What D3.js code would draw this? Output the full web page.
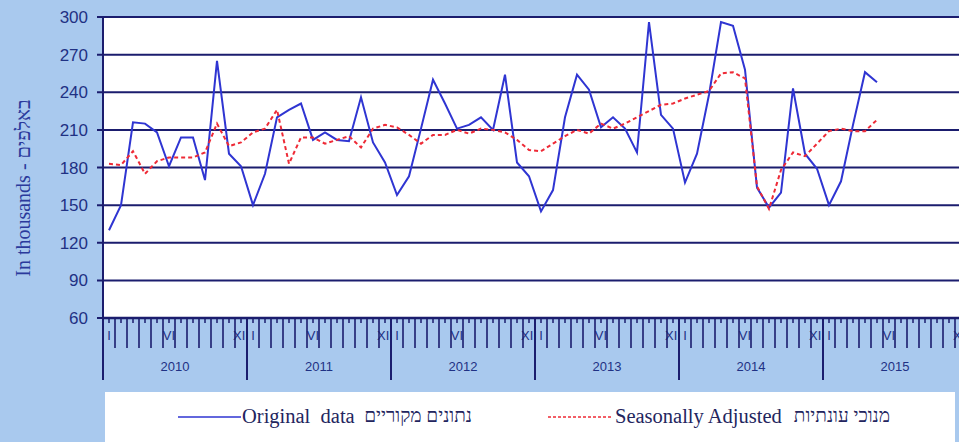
<!DOCTYPE html>
<html>
<head>
    <meta charset="utf-8">
    <title>In thousands</title>
    <script src="https://d3js.org/d3.v7.min.js"></script>
    <style>
        body { margin: 0; background: #a9c9ee; }
        svg { display: block; }
    </style>
</head>
<body>
    <svg id="chart" width="959" height="442"></svg>

    <script>
        // monthly data, Jan 2010 onwards (thousands)
        const years = [2010, 2011, 2012, 2013, 2014, 2015];
        const monthLabels = {0: 'I', 5: 'VI', 11: 'XII'};
        const yTicks = [60, 90, 120, 150, 180, 210, 240, 270, 300];

        const original = [
            130, 150, 216, 215, 208, 181, 204, 204, 170, 265, 191, 181,
            150, 175, 220, 226, 231, 202, 208, 202, 201, 236, 200, 184,
            158, 173, 211, 250, 231, 211, 214, 220, 210, 254, 184, 173,
            145, 162, 220, 254, 242, 212, 220, 211, 192, 296, 222, 211,
            168, 191, 238, 296, 293, 258, 164, 148, 160, 243, 191, 179,
            150, 169, 214, 256, 248
        ];
        const seasAdj = [
            183, 182, 193, 175, 185, 188, 188, 188, 192, 215, 197, 200,
            208, 211, 226, 183, 204, 204, 199, 202, 205, 196, 211, 214,
            212, 206, 199, 206, 206, 210, 207, 211, 210, 208, 202, 194,
            193, 199, 205, 210, 207, 215, 211, 215, 220, 225, 230, 231,
            235, 238, 241, 255, 256, 251, 165, 147, 178, 192, 189, 199,
            209, 211, 209, 209, 218
        ];

        const svg = d3.select('#chart');
        const navy = '#1b1d6e';
        const textCol = '#1f3184';

        const plotL = 103, plotR = 967, plotT = 17, plotB = 318;
        const nMonths = years.length * 12;

        const x = d3.scaleLinear().domain([0, nMonths]).range([plotL, plotR]);
        const y = d3.scaleLinear().domain([60, 300]).range([plotB, plotT]);

        // plot area
        svg.append('rect')
            .attr('x', plotL).attr('y', plotT)
            .attr('width', plotR - plotL).attr('height', plotB - plotT)
            .attr('fill', '#ffffff');

        // gridlines + y labels
        yTicks.forEach(v => {
            svg.append('line')
                .attr('x1', plotL - 6).attr('x2', plotR)
                .attr('y1', y(v)).attr('y2', y(v))
                .attr('stroke', navy).attr('stroke-width', 2);
            svg.append('text')
                .attr('x', 88).attr('y', y(v))
                .attr('dy', '0.36em')
                .attr('text-anchor', 'end')
                .attr('font-family', 'Arial, "Liberation Sans", sans-serif')
                .attr('font-size', '17px')
                .attr('fill', textCol)
                .text(v);
        });

        // y axis line (runs down into the year band)
        svg.append('line')
            .attr('x1', plotL).attr('x2', plotL)
            .attr('y1', plotT).attr('y2', 380)
            .attr('stroke', navy).attr('stroke-width', 2);

        // month labels first, ticks drawn over them like the original
        for (let k = 0; k < nMonths; k++) {
            const lab = monthLabels[k % 12];
            if (lab) {
                svg.append('text')
                    .attr('x', x(k + 0.5)).attr('y', 340)
                    .attr('text-anchor', 'middle')
                    .attr('font-family', 'Arial, "Liberation Sans", sans-serif')
                    .attr('font-size', '13px')
                    .attr('fill', textCol)
                    .text(lab);
            }
        }

        // x axis ticks
        for (let k = 1; k <= nMonths; k++) {
            const major = k % 12 === 0;
            svg.append('line')
                .attr('x1', x(k)).attr('x2', x(k))
                .attr('y1', plotB).attr('y2', major ? 380 : 348)
                .attr('stroke', navy).attr('stroke-width', major ? 2 : 1.6);
        }
        for (let k = 0; k < nMonths; k++) {
            svg.append('line')
                .attr('x1', x(k + 0.5)).attr('x2', x(k + 0.5))
                .attr('y1', plotB).attr('y2', plotB + 5)
                .attr('stroke', navy).attr('stroke-width', 1.5);
        }
        years.forEach((yr, i) => {
            svg.append('text')
                .attr('x', x(i * 12 + 6)).attr('y', 371)
                .attr('text-anchor', 'middle')
                .attr('font-family', 'Arial, "Liberation Sans", sans-serif')
                .attr('font-size', '13px')
                .attr('fill', textCol)
                .text(yr);
        });

        // x axis line
        svg.append('line')
            .attr('x1', plotL).attr('x2', plotR)
            .attr('y1', plotB).attr('y2', plotB)
            .attr('stroke', navy).attr('stroke-width', 2.5);

        // series
        const line = d3.line()
            .x((d, i) => x(i + 0.5))
            .y(d => y(d));

        svg.append('path')
            .datum(original)
            .attr('d', line)
            .attr('fill', 'none')
            .attr('stroke', '#2f35d2')
            .attr('stroke-width', 2);

        svg.append('path')
            .datum(seasAdj)
            .attr('d', line)
            .attr('fill', 'none')
            .attr('stroke', '#ee2a36')
            .attr('stroke-width', 2)
            .attr('stroke-dasharray', '4,3');

        // y axis title
        svg.append('text')
            .attr('transform', 'translate(30,188) rotate(-90)')
            .attr('text-anchor', 'middle')
            .attr('font-family', '"Liberation Serif", "DejaVu Serif", serif')
            .attr('font-size', '20px')
            .attr('fill', '#2b3a9c')
            .text('In thousands - באלפים');

        // legend box
        svg.append('rect')
            .attr('x', 105).attr('y', 392)
            .attr('width', 850).attr('height', 60)
            .attr('fill', '#ffffff');

        svg.append('line')
            .attr('x1', 178).attr('x2', 241)
            .attr('y1', 417).attr('y2', 417)
            .attr('stroke', '#2f35d2').attr('stroke-width', 1.6);
        svg.append('text')
            .attr('x', 242).attr('y', 423)
            .attr('font-family', '"Liberation Serif", serif')
            .attr('font-size', '20.5px')
            .attr('fill', '#23255e')
            .attr('xml:space', 'preserve')
            .text('Original  data');
        svg.append('text')
            .attr('x', 472).attr('y', 422)
            .attr('text-anchor', 'end')
            .attr('font-family', '"Liberation Serif", "DejaVu Serif", serif')
            .attr('font-size', '19px')
            .attr('fill', '#23255e')
            .text('נתונים מקוריים');

        svg.append('line')
            .attr('x1', 548).attr('x2', 613)
            .attr('y1', 417).attr('y2', 417)
            .attr('stroke', '#ee2a36').attr('stroke-width', 1.4)
            .attr('stroke-dasharray', '3,2');
        svg.append('text')
            .attr('x', 615).attr('y', 423)
            .attr('font-family', '"Liberation Serif", serif')
            .attr('font-size', '20.5px')
            .attr('fill', '#23255e')
            .text('Seasonally Adjusted');
        svg.append('text')
            .attr('x', 890).attr('y', 422)
            .attr('text-anchor', 'end')
            .attr('font-family', '"Liberation Serif", "DejaVu Serif", serif')
            .attr('font-size', '19px')
            .attr('fill', '#23255e')
            .text('מנוכי עונתיות');
    </script>
</body>
</html>
